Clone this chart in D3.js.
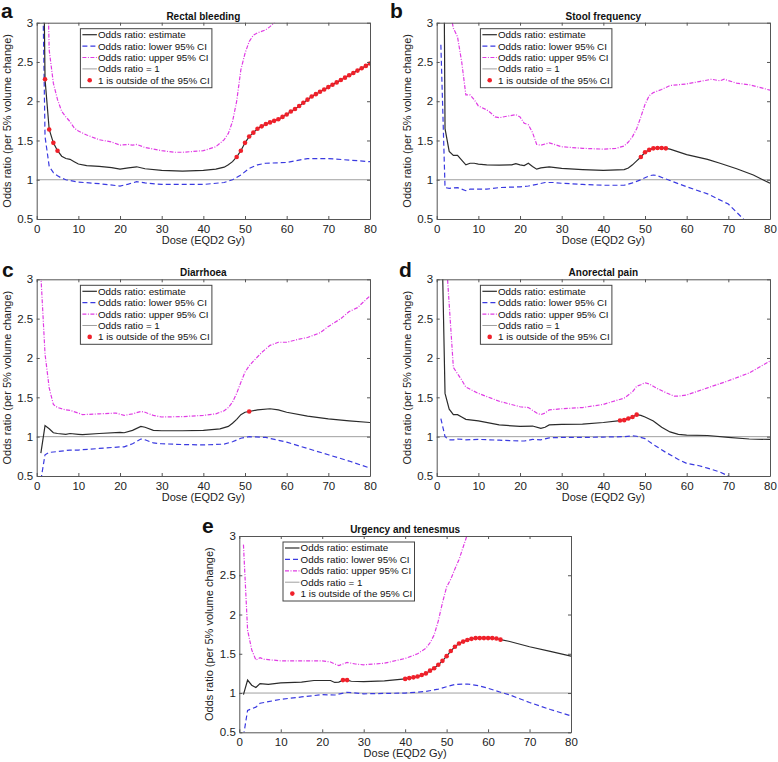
<!DOCTYPE html>
<html><head><meta charset="utf-8">
<script src="https://cdn.jsdelivr.net/npm/d3@7"></script>
<style>
body{margin:0;background:#fff}
text{font-family:Arial,"Liberation Sans",Helvetica,sans-serif}
</style>
</head><body>
<svg id="chart" width="778" height="762"></svg>
<script>
// ---------- tick labels / texts ----------
const xTicks = [0,10,20,30,40,50,60,70,80];
const yTicks = [0.5,1,1.5,2,2.5,3];
const yTickLabels = ["0.5","1","1.5","2","2.5","3"];
const panelLetters = ["a","b","c","d","e"];
const panelTitles = ["Rectal bleeding","Stool frequency","Diarrhoea","Anorectal pain","Urgency and tenesmus"];
const legendLabels = ["Odds ratio: estimate","Odds ratio: lower 95% CI","Odds ratio: upper 95% CI","Odds ratio = 1","1 is outside of the 95% CI"];
const xLabel = "Dose (EQD2 Gy)";
const yLabel = "Odds ratio (per 5% volume change)";
const refValue = 1;

// ---------- a: Rectal bleeding ----------
const rbEstimate = [[1,6.8],[2,2.28],[3,1.64],[4,1.47],[5,1.37],[6,1.30],[7,1.27],[8,1.26],[9,1.23],[10,1.20],[12,1.18],[15,1.17],[18,1.155],[20,1.135],[22,1.15],[24,1.165],[26,1.14],[30,1.12],[35,1.11],[40,1.12],[43,1.135],[45,1.16],[46,1.19],[47,1.23],[48,1.29],[49,1.37],[50,1.47],[51,1.55],[52,1.60],[53,1.65],[54,1.68],[55,1.71],[56,1.73],[57,1.75],[58,1.77],[59,1.80],[60,1.83],[61,1.87],[62,1.90],[63,1.94],[64,1.98],[65,2.02],[66,2.06],[67,2.09],[68,2.12],[69,2.15],[70,2.18],[71,2.21],[72,2.24],[73,2.27],[74,2.30],[75,2.33],[76,2.36],[77,2.39],[78,2.42],[79,2.45],[80,2.48]];
const rbLower = [[1,5.0],[2,1.55],[3,1.17],[4,1.09],[5,1.05],[6,1.02],[7,1.0],[8,0.99],[10,0.97],[15,0.95],[20,0.92],[22,0.945],[24,0.975],[26,0.96],[30,0.94],[35,0.94],[40,0.94],[45,0.965],[47,1.0],[49,1.06],[51,1.145],[53,1.19],[55,1.21],[60,1.22],[65,1.27],[70,1.27],[75,1.25],[80,1.23]];
const rbUpper = [[2,5.0],[3,2.65],[4,2.23],[5,2.02],[6,1.87],[7,1.80],[8,1.74],[9,1.66],[10,1.62],[12,1.57],[15,1.51],[18,1.48],[20,1.44],[22,1.45],[23,1.44],[24,1.45],[26,1.41],[30,1.37],[33,1.35],[35,1.35],[40,1.37],[43,1.42],[45,1.51],[46,1.59],[47,1.74],[48,2.0],[49,2.4],[50,2.61],[51,2.76],[52,2.84],[53,2.87],[55,2.91],[56,2.95],[57,3.0],[58,3.1]];
const rbOutside = [2,3,4,5,48,49,50,51,52,53,54,55,56,57,58,59,60,61,62,63,64,65,66,67,68,69,70,71,72,73,74,75,76,77,78,79,80];

// ---------- b: Stool frequency ----------
const sfEstimate = [[1,10],[2,1.65],[3,1.36],[4,1.31],[5,1.31],[6,1.25],[7,1.19],[8,1.21],[9,1.21],[10,1.20],[12,1.19],[15,1.185],[18,1.19],[19,1.205],[20,1.19],[21,1.18],[22,1.21],[23,1.17],[24,1.135],[25,1.15],[27,1.165],[30,1.145],[35,1.13],[40,1.12],[45,1.13],[46,1.15],[47,1.19],[48,1.24],[49,1.29],[50,1.35],[51,1.38],[52,1.40],[53,1.405],[54,1.405],[55,1.40],[56,1.39],[60,1.32],[65,1.26],[68,1.21],[72,1.14],[76,1.06],[80,0.955]];
const sfLower = [[1,2.72],[2,0.90],[3,0.89],[5,0.90],[7,0.86],[8,0.88],[10,0.88],[12,0.88],[15,0.90],[20,0.91],[22,0.92],[24,0.94],[26,0.965],[28,0.965],[30,0.955],[35,0.94],[40,0.93],[45,0.93],[47,0.96],[49,1.0],[51,1.05],[52,1.06],[53,1.05],[55,1.01],[58,0.95],[60,0.91],[65,0.82],[70,0.69],[74,0.48],[76,0.42]];
const sfUpper = [[3,3.2],[4,2.93],[5,2.82],[6,2.5],[7,2.08],[8,2.08],[9,2.02],[10,1.94],[12,1.89],[13,1.85],[14,1.80],[15,1.79],[17,1.81],[19,1.83],[20,1.80],[21,1.72],[22,1.70],[23,1.60],[24,1.45],[25,1.44],[27,1.47],[30,1.42],[35,1.40],[40,1.39],[43,1.40],[45,1.43],[46,1.48],[47,1.55],[48,1.65],[49,1.80],[50,1.96],[51,2.07],[52,2.11],[54,2.15],[56,2.20],[60,2.22],[63,2.25],[66,2.28],[68,2.26],[69,2.28],[72,2.23],[75,2.21],[78,2.17],[80,2.14]];
const sfOutside = [49,50,51,52,53,54,55];

// ---------- c: Diarrhoea ----------
const diEstimate = [[1,0.79],[2,1.14],[3,1.10],[4,1.05],[5,1.04],[7,1.03],[8,1.04],[10,1.03],[11,1.025],[15,1.04],[20,1.055],[21,1.05],[23,1.08],[25,1.13],[26,1.12],[28,1.08],[30,1.075],[35,1.075],[40,1.08],[44,1.10],[46,1.13],[47,1.17],[48,1.22],[49,1.28],[50,1.31],[51,1.32],[53,1.34],[56,1.355],[58,1.34],[60,1.31],[65,1.26],[70,1.225],[75,1.20],[80,1.18]];
const diLower = [[1,0.45],[2,0.77],[3,0.80],[5,0.81],[8,0.83],[10,0.83],[15,0.85],[20,0.87],[21,0.87],[23,0.91],[25,0.97],[26,0.96],[28,0.92],[30,0.91],[35,0.90],[40,0.895],[45,0.905],[47,0.935],[49,0.98],[51,1.0],[55,0.99],[60,0.93],[65,0.85],[70,0.77],[75,0.69],[80,0.60]];
const diUpper = [[1,3.05],[2,2.05],[3,1.62],[4,1.41],[5,1.37],[7,1.34],[8,1.335],[10,1.30],[11,1.28],[15,1.29],[19,1.30],[21,1.27],[23,1.29],[25,1.32],[26,1.31],[28,1.27],[30,1.25],[35,1.255],[40,1.27],[43,1.29],[45,1.33],[46,1.37],[47,1.44],[48,1.55],[49,1.69],[50,1.82],[51,1.90],[52,1.96],[54,2.07],[56,2.16],[58,2.20],[60,2.20],[63,2.24],[65,2.26],[68,2.32],[70,2.40],[73,2.50],[75,2.59],[77,2.64],[80,2.79]];
const diOutside = [51];

// ---------- d: Anorectal pain ----------
const apEstimate = [[1,4.2],[2,1.55],[3,1.35],[4,1.28],[5,1.28],[6,1.25],[7,1.22],[10,1.20],[15,1.15],[20,1.13],[23,1.135],[25,1.105],[26,1.12],[27,1.15],[30,1.155],[35,1.16],[40,1.18],[44,1.205],[45,1.21],[46,1.23],[47,1.25],[48,1.28],[49,1.27],[50,1.25],[52,1.20],[54,1.12],[56,1.06],[58,1.03],[60,1.02],[65,1.015],[70,0.99],[75,0.97],[80,0.965]];
const apLower = [[1,1.23],[2,1.0],[3,0.96],[4,0.96],[5,0.97],[7,0.96],[10,0.965],[15,0.955],[20,0.945],[21,0.945],[23,0.965],[25,0.96],[27,0.985],[30,0.99],[35,0.99],[40,0.995],[45,1.0],[47,1.01],[48,1.005],[50,0.975],[52,0.90],[55,0.80],[58,0.71],[60,0.66],[63,0.63],[65,0.60],[68,0.55],[70,0.50],[72,0.45]];
const apUpper = [[2,3.5],[3,2.68],[4,1.88],[5,1.80],[6,1.72],[7,1.63],[10,1.55],[15,1.45],[20,1.38],[22,1.37],[24,1.30],[25,1.28],[26,1.30],[27,1.34],[30,1.355],[35,1.37],[40,1.41],[45,1.49],[47,1.57],[48,1.64],[49,1.66],[50,1.685],[51,1.67],[53,1.61],[55,1.56],[57,1.515],[58,1.515],[60,1.53],[65,1.62],[70,1.71],[75,1.81],[78,1.90],[80,1.96]];
const apOutside = [44,45,46,47,48];

// ---------- e: Urgency and tenesmus ----------
const utEstimate = [[1,0.98],[2,1.165],[3,1.10],[4,1.07],[5,1.12],[7,1.11],[10,1.13],[15,1.14],[18,1.16],[20,1.16],[22,1.16],[23,1.135],[24,1.14],[25,1.165],[26,1.165],[27,1.15],[30,1.145],[35,1.155],[40,1.18],[41,1.19],[42,1.20],[43,1.21],[44,1.23],[45,1.25],[46,1.285],[47,1.315],[48,1.36],[49,1.41],[50,1.47],[51,1.535],[52,1.59],[53,1.63],[54,1.655],[55,1.675],[56,1.69],[57,1.70],[58,1.70],[59,1.70],[60,1.70],[61,1.70],[62,1.695],[63,1.68],[65,1.66],[70,1.59],[75,1.53],[80,1.47]];
const utLower = [[1,0.45],[2,0.78],[3,0.80],[4,0.82],[5,0.87],[7,0.89],[10,0.92],[15,0.95],[20,0.98],[23,0.975],[26,1.01],[30,0.99],[35,0.995],[40,1.0],[45,1.02],[48,1.05],[50,1.08],[52,1.11],[55,1.115],[58,1.09],[60,1.06],[63,1.01],[65,0.98],[70,0.88],[75,0.79],[80,0.71]];
const utUpper = [[1,2.89],[2,1.80],[3,1.55],[4,1.42],[5,1.45],[6,1.43],[10,1.41],[15,1.41],[20,1.41],[22,1.395],[23,1.37],[24,1.35],[25,1.37],[26,1.39],[28,1.37],[30,1.36],[35,1.38],[40,1.44],[43,1.50],[45,1.57],[46,1.64],[47,1.74],[48,1.92],[49,2.15],[50,2.35],[51,2.45],[52,2.58],[53,2.70],[54,2.86],[55,3.02]];
const utOutside = [25,26,40,41,42,43,44,45,46,47,48,49,50,51,52,53,54,55,56,57,58,59,60,61,62,63];

// ---------- layout ----------
const panels = [
  {est:rbEstimate, lo:rbLower, up:rbUpper, out:rbOutside, x0:36.7, x1:370, y0:22.7, y1:219, lx:1, ly:18},
  {est:sfEstimate, lo:sfLower, up:sfUpper, out:sfOutside, x0:436.7, x1:770, y0:22.7, y1:219, lx:390, ly:18},
  {est:diEstimate, lo:diLower, up:diUpper, out:diOutside, x0:36.7, x1:370, y0:279.3, y1:476, lx:2, ly:277},
  {est:apEstimate, lo:apLower, up:apUpper, out:apOutside, x0:436.7, x1:770, y0:279.3, y1:476, lx:399, ly:277},
  {est:utEstimate, lo:utLower, up:utUpper, out:utOutside, x0:239.3, x1:571, y0:536, y1:732.3, lx:202, ly:533}
];

const COL_EST = "#2b2b2b", COL_LO = "#3a3ae0", COL_UP = "#e03ce4", COL_REF = "#a0a0a0", COL_MK = "#f0202a", COL_AX = "#555";
const DASH_LO = "5,3", DASH_UP = "4,1.5,1,1.5";
const FONT = 'Arial,"Liberation Sans",Helvetica,sans-serif';

const svg = d3.select("#chart");
svg.append("rect").attr("width",778).attr("height",762).attr("fill","#fff");

panels.forEach((p,i) => {
  const x = d3.scaleLinear().domain([0,80]).range([p.x0,p.x1]);
  const y = d3.scaleLinear().domain([0.5,3]).range([p.y1,p.y0]);
  const g = svg.append("g");
  const clipId = "clip"+i;
  svg.append("clipPath").attr("id",clipId).append("rect")
    .attr("x",p.x0).attr("y",p.y0).attr("width",p.x1-p.x0).attr("height",p.y1-p.y0);
  const line = d3.line().x(d=>x(d[0])).y(d=>y(d[1]));
  const pg = g.append("g").attr("clip-path",`url(#${clipId})`);

  pg.append("line").attr("x1",x(0)).attr("x2",x(80)).attr("y1",y(refValue)).attr("y2",y(refValue))
    .attr("stroke",COL_REF).attr("stroke-width",1);
  pg.append("path").datum(p.lo).attr("d",line).attr("fill","none")
    .attr("stroke",COL_LO).attr("stroke-width",1.2).attr("stroke-dasharray",DASH_LO);
  pg.append("path").datum(p.up).attr("d",line).attr("fill","none")
    .attr("stroke",COL_UP).attr("stroke-width",1.2).attr("stroke-dasharray",DASH_UP);
  pg.append("path").datum(p.est).attr("d",line).attr("fill","none")
    .attr("stroke",COL_EST).attr("stroke-width",1.2);
  const estMap = new Map(p.est.map(d=>[d[0],d[1]]));
  pg.selectAll("circle.mk").data(p.out.filter(d=>estMap.has(d))).join("circle")
    .attr("class","mk").attr("cx",d=>x(d)).attr("cy",d=>y(estMap.get(d)))
    .attr("r",2.3).attr("fill",COL_MK);

  // axes (MATLAB box style, inward ticks)
  const styleAxis = sel => {
    sel.selectAll(".domain").attr("stroke",COL_AX);
    sel.selectAll(".tick line").attr("stroke",COL_AX);
    sel.selectAll(".tick text").attr("fill","#222").attr("font-size","11.5px").attr("font-family",FONT);
  };
  g.append("g").attr("transform",`translate(0,${p.y1})`)
    .call(d3.axisBottom(x).tickValues(xTicks).tickSize(-3).tickSizeOuter(0).tickPadding(5.5)).call(styleAxis);
  g.append("g").attr("transform",`translate(0,${p.y0})`)
    .call(d3.axisTop(x).tickValues(xTicks).tickSize(-3).tickSizeOuter(0).tickFormat("")).call(styleAxis);
  g.append("g").attr("transform",`translate(${p.x0},0)`)
    .call(d3.axisLeft(y).tickValues(yTicks).tickSize(-3).tickSizeOuter(0).tickPadding(3.5)
      .tickFormat((d,k)=>yTickLabels[k])).call(styleAxis);
  g.append("g").attr("transform",`translate(${p.x1},0)`)
    .call(d3.axisRight(y).tickValues(yTicks).tickSize(-3).tickSizeOuter(0).tickFormat("")).call(styleAxis);

  // titles & labels
  g.append("text").attr("x",(p.x0+p.x1)/2).attr("y",p.y0-3).attr("text-anchor","middle")
    .attr("font-size","10px").attr("font-weight","bold").attr("fill","#111").text(panelTitles[i]);
  g.append("text").attr("x",p.lx).attr("y",p.ly).attr("font-size","21px").attr("font-weight","bold")
    .attr("fill","#111").text(panelLetters[i]);
  g.append("text").attr("x",(p.x0+p.x1)/2).attr("y",p.y1+24.5).attr("text-anchor","middle")
    .attr("font-size","11px").attr("fill","#222").text(xLabel);
  g.append("text").attr("transform",`translate(${p.x0-26},${(p.y0+p.y1)/2}) rotate(-90)`)
    .attr("text-anchor","middle").attr("font-size","11px").attr("fill","#222").text(yLabel);

  // legend
  const lg = g.append("g").attr("transform",`translate(${p.x0+43.7},${p.y0+6})`);
  lg.append("rect").attr("width",131.5).attr("height",59).attr("fill","#fff")
    .attr("stroke","#444").attr("stroke-width",1);
  const rows = lg.selectAll("g.row").data(legendLabels).join("g").attr("class","row")
    .attr("transform",(d,k)=>`translate(0,${6+k*11.4})`);
  rows.append("text").attr("x",17.6).attr("y",0).attr("dy","0.35em").attr("font-size","9.8px")
    .attr("fill","#111").text(d=>d);
  const samples = [
    {stroke:COL_EST, dash:null, w:1.2},
    {stroke:COL_LO, dash:DASH_LO, w:1.2},
    {stroke:COL_UP, dash:DASH_UP, w:1.2},
    {stroke:COL_REF, dash:null, w:1}
  ];
  samples.forEach((s,k)=>{
    lg.append("line").attr("x1",2).attr("x2",16.5).attr("y1",6+k*11.4).attr("y2",6+k*11.4)
      .attr("stroke",s.stroke).attr("stroke-width",s.w).attr("stroke-dasharray",s.dash);
  });
  lg.append("circle").attr("cx",9.3).attr("cy",6+4*11.4).attr("r",2.3).attr("fill",COL_MK);
});
</script>
</body></html>
